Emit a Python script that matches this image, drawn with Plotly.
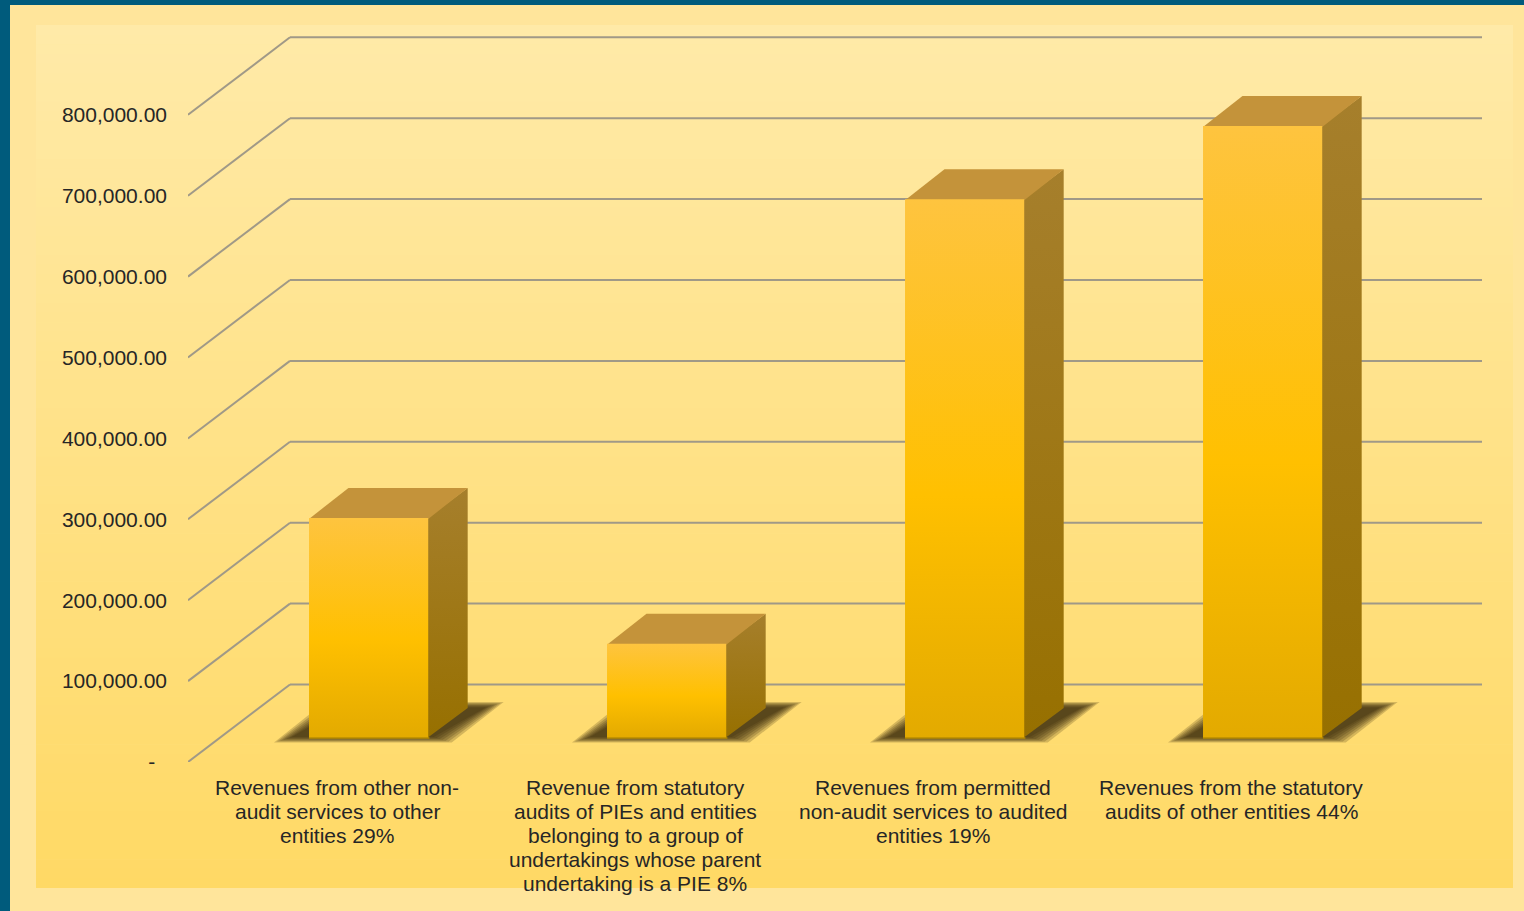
import plotly.graph_objects as go

# ---------------- data ----------------
categories = [
    "Revenues from other non-<br>audit services to other<br>entities 29%",
    "Revenue from statutory<br>audits of PIEs and entities<br>belonging to a group of<br>undertakings whose parent<br>undertaking is a PIE 8%",
    "Revenues from permitted<br>non-audit services to audited<br>entities 19%",
    "Revenues from the statutory<br>audits of other entities 44%",
]
values = [272000, 116500, 666000, 756500]
tick_values = [0, 100000, 200000, 300000, 400000, 500000, 600000, 700000, 800000]
tick_labels = ["-\u00a0\u00a0", "100,000.00", "200,000.00", "300,000.00", "400,000.00",
               "500,000.00", "600,000.00", "700,000.00", "800,000.00"]

# ---------------- layout geometry ----------------
W, H = 1524, 911
PX_CAT = 298.0            # pixels per category
PX_VAL = 80.9 / 100000.0  # pixels per value unit
PLOT_L, PLOT_R = 188, 1482
PLOT_B, PLOT_T = 762, 30

x_range = [-0.5, -0.5 + (PLOT_R - PLOT_L) / PX_CAT]
y_range = [0, (PLOT_B - PLOT_T) / PX_VAL]

DEPTH_X = 102 / PX_CAT     # oblique depth offset (category units)
DEPTH_Y = 77.5 / PX_VAL    # oblique depth offset (value units)
F1, F2 = 0.31, 0.697       # bar front / back depth fractions
BAR_W = 0.4


def px_x(p):
    return p / PX_CAT


def px_y(p):
    return p / PX_VAL


TEXT = "#262626"
FONT = "Arial, Liberation Sans, sans-serif"
GRID = "#A09987"

fig = go.Figure()
shapes = []

# outer frame
shapes.append(dict(type="rect", xref="paper", yref="paper", x0=0, x1=10 / W, y0=0, y1=1,
                   fillcolor="#005B7C", line_width=0, layer="below"))
shapes.append(dict(type="rect", xref="paper", yref="paper", x0=0, x1=1, y0=1 - 5 / H, y1=1,
                   fillcolor="#005B7C", line_width=0, layer="below"))

# inner gradient panel (bands)
top_c = (255, 234, 168)
bot_c = (255, 217, 101)
y_top_px, y_bot_px = 25, 888
n_bands = 90
for k in range(n_bands):
    t = k / (n_bands - 1)
    c = tuple(round(top_c[j] + (bot_c[j] - top_c[j]) * t) for j in range(3))
    ya = y_top_px + (y_bot_px - y_top_px) * k / n_bands
    yb = y_top_px + (y_bot_px - y_top_px) * (k + 1) / n_bands + 0.6
    shapes.append(dict(type="rect", xref="paper", yref="paper",
                       x0=36 / W, x1=1513 / W,
                       y0=1 - min(yb, y_bot_px) / H, y1=1 - ya / H,
                       fillcolor="rgb(%d,%d,%d)" % c, line_width=0, layer="below"))

# back wall / side wall grid lines
for v in tick_values:
    shapes.append(dict(type="line", xref="x", yref="y",
                       x0=x_range[0], y0=v, x1=x_range[0] + DEPTH_X, y1=v + DEPTH_Y,
                       line=dict(color=GRID, width=2), layer="below"))
    shapes.append(dict(type="line", xref="x", yref="y",
                       x0=x_range[0] + DEPTH_X, y0=v + DEPTH_Y, x1=x_range[1], y1=v + DEPTH_Y,
                       line=dict(color=GRID, width=2), layer="below"))

# ---------------- bars ----------------
dDx = (F2 - F1) * DEPTH_X
b1 = F1 * DEPTH_Y
b2 = F2 * DEPTH_Y

# soft floor shadows (stacked translucent layers)
for i, v in enumerate(values):
    xL = i + F1 * DEPTH_X - BAR_W / 2
    xR = xL + BAR_W
    for t in [0, 3, 6, 9, 12, 15, 18]:
        fl = (xL - px_x(35) + px_x(t), b1 - px_y(4.5) + px_y(t * 0.3))
        fr = (xR + px_x(23.5) - px_x(t), b1 - px_y(4.5) + px_y(t * 0.3))
        br = (xR + dDx + px_x(36) - px_x(t), b2 + px_y(6) - px_y(t * 0.3))
        bl = (xL + dDx - px_x(23.5) + px_x(t), b2 + px_y(6) - px_y(t * 0.3))
        xs = [fl[0], fr[0], br[0], bl[0], fl[0]]
        ys = [fl[1], fr[1], br[1], bl[1], fl[1]]
        fig.add_trace(go.Scatter(x=xs, y=ys, mode="lines", fill="toself",
                                 fillcolor="rgba(50,40,8,0.21)", line=dict(width=0),
                                 hoverinfo="skip", showlegend=False))

for i, v in enumerate(values):
    xL = i + F1 * DEPTH_X - BAR_W / 2
    xR = xL + BAR_W
    # side face
    fig.add_trace(go.Scatter(
        x=[xR - px_x(1), xR + dDx, xR + dDx, xR - px_x(1), xR - px_x(1)],
        y=[b1, b2, b2 + v, b1 + v, b1],
        mode="lines", fill="toself", line=dict(width=0),
        fillgradient=dict(type="vertical", colorscale=[[0, "#977000"], [1, "#A67F2C"]]),
        hoverinfo="skip", showlegend=False))
    # top face
    fig.add_trace(go.Scatter(
        x=[xL, xR, xR + dDx, xL + dDx, xL],
        y=[b1 + v - px_y(1), b1 + v - px_y(1), b2 + v, b2 + v, b1 + v - px_y(1)],
        mode="lines", fill="toself", fillcolor="#C4933A", line=dict(width=0),
        hoverinfo="skip", showlegend=False))
    # front face
    fig.add_trace(go.Scatter(
        x=[xL, xR, xR, xL, xL],
        y=[b1, b1, b1 + v, b1 + v, b1],
        mode="lines", fill="toself", line=dict(width=0),
        fillgradient=dict(type="vertical",
                          colorscale=[[0, "#E3AA00"], [0.45, "#FFC000"], [1, "#FEC43F"]]),
        name=categories[i].replace("<br>", " "),
        hovertemplate="%{text}<extra></extra>", text=[f"{v:,.2f}"] * 5,
        showlegend=False))
    # thin darker bottom edge of the front face
    fig.add_trace(go.Scatter(
        x=[xL, xR + dDx * 0.03], y=[b1, b1], mode="lines",
        line=dict(color="#B88C00", width=1.5), hoverinfo="skip", showlegend=False))

# category labels (one annotation per line)
annotations = []
for i, cat in enumerate(categories):
    for k, line in enumerate(cat.split("<br>")):
        annotations.append(dict(x=i, y=0, xref="x", yref="y", text=line, showarrow=False,
                                xanchor="center", yanchor="middle", yshift=-(25 + 24 * k),
                                font=dict(family=FONT, size=21, color=TEXT)))

fig.update_layout(
    width=W, height=H, autosize=False,
    margin=dict(l=0, r=0, t=0, b=0, pad=0),
    paper_bgcolor="#FFE59B",
    plot_bgcolor="rgba(0,0,0,0)",
    shapes=shapes,
    annotations=annotations,
    showlegend=False,
    xaxis=dict(domain=[PLOT_L / W, PLOT_R / W], range=x_range, showgrid=False,
               zeroline=False, showline=False, showticklabels=False, fixedrange=True,
               automargin=False),
    yaxis=dict(domain=[(H - PLOT_B) / H, (H - PLOT_T) / H], range=y_range, showgrid=False,
               zeroline=False, showline=False, tickmode="array", tickvals=tick_values,
               ticktext=tick_labels, ticks="", ticklabelstandoff=20, automargin=False,
               tickfont=dict(family=FONT, size=21, color=TEXT), fixedrange=True),
)

fig.write_html("out.html")
